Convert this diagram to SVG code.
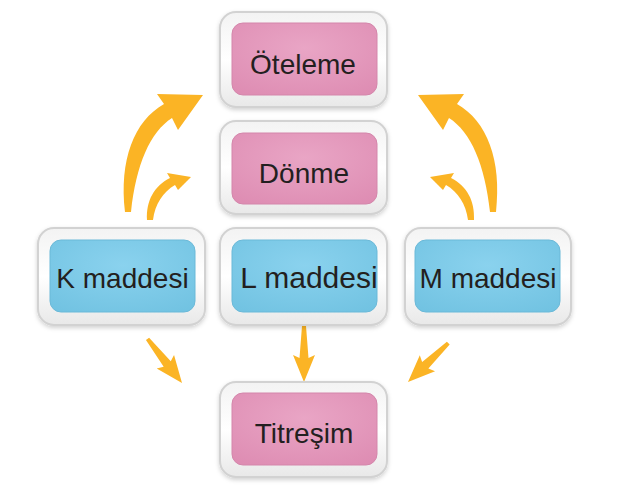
<svg xmlns="http://www.w3.org/2000/svg" width="642" height="491" viewBox="0 0 642 491">
  <defs>
    <linearGradient id="frameGrad" x1="0" y1="0" x2="0" y2="1">
      <stop offset="0" stop-color="#f3f3f3"/>
      <stop offset="0.5" stop-color="#ffffff"/>
      <stop offset="1" stop-color="#e8e8e8"/>
    </linearGradient>
    <radialGradient id="pinkGrad" cx="0.5" cy="0.35" r="0.75">
      <stop offset="0" stop-color="#e9a5c5"/>
      <stop offset="1" stop-color="#de8db3"/>
    </radialGradient>
    <radialGradient id="blueGrad" cx="0.5" cy="0.35" r="0.75">
      <stop offset="0" stop-color="#8ad2ee"/>
      <stop offset="1" stop-color="#72c3e2"/>
    </radialGradient>
    <filter id="shadow" x="-10%" y="-10%" width="120%" height="130%">
      <feDropShadow dx="0" dy="2" stdDeviation="2" flood-color="#000" flood-opacity="0.18"/>
    </filter>
    <path id="straightArrow" d="M-2,-56 L2,-56 L4.5,-24 L11,-27 L0,0 L-11,-27 L-4.5,-24 Z"/>
    <path id="bigCurve" d="M125,212 C119,160 134,121 164,104 L157,94 L203,95 L178,130 L172,118 C150,132 136,165 131,212 Z"/>
    <path id="smallCurve" d="M147,220 C146,201 154,186 170,178 L167,173 L191,177 L178,190 L175,185 C163,192 155,204 153,220 Z"/>
  </defs>
  <style>
    .frame { fill: url(#frameGrad); stroke: #d2d2d2; stroke-width: 2; filter: url(#shadow); }
    .pink { fill: url(#pinkGrad); stroke: #d486ab; stroke-width: 1; }
    .blue { fill: url(#blueGrad); stroke: #6bb9d8; stroke-width: 1; }
    .label { font-family: "Liberation Sans", Arial, sans-serif; font-size: 28px; fill: #231f20; text-anchor: middle; }
    .arrow { fill: #fbb425; }
  </style>
  <rect width="642" height="491" fill="#ffffff"/>

  <g id="connectors">
    <use href="#bigCurve" class="arrow"/>
    <use href="#smallCurve" class="arrow"/>
    <g transform="translate(621,0) scale(-1,1)">
      <use href="#bigCurve" class="arrow"/>
      <use href="#smallCurve" class="arrow"/>
    </g>
    <use href="#straightArrow" class="arrow" transform="translate(182,383) rotate(-38)"/>
    <use href="#straightArrow" class="arrow" transform="translate(304,382)"/>
    <use href="#straightArrow" class="arrow" transform="translate(408,382) rotate(46)"/>
  </g>

  <g id="oteleme">
    <rect class="frame" x="220" y="12" width="167" height="95" rx="16"/>
    <rect class="pink" x="232" y="23" width="145" height="72" rx="11"/>
    <text class="label" x="303" y="74">Öteleme</text>
  </g>
  <g id="donme">
    <rect class="frame" x="220" y="121" width="167" height="93" rx="16"/>
    <rect class="pink" x="232" y="133" width="145" height="71" rx="11"/>
    <text class="label" x="304" y="183">Dönme</text>
  </g>
  <g id="k-maddesi">
    <rect class="frame" x="38" y="228" width="167" height="97" rx="16"/>
    <rect class="blue" x="50" y="240" width="145" height="72" rx="11"/>
    <text class="label" x="122.5" y="288">K maddesi</text>
  </g>
  <g id="l-maddesi">
    <rect class="frame" x="220" y="228" width="167" height="97" rx="16"/>
    <rect class="blue" x="232" y="240" width="145" height="72" rx="11"/>
    <text class="label" x="309" y="288" style="font-size:30px">L maddesi</text>
  </g>
  <g id="m-maddesi">
    <rect class="frame" x="405" y="228" width="166" height="97" rx="16"/>
    <rect class="blue" x="415" y="240" width="145" height="72" rx="11"/>
    <text class="label" x="488" y="288">M maddesi</text>
  </g>
  <g id="titresim">
    <rect class="frame" x="220" y="382" width="167" height="95" rx="16"/>
    <rect class="pink" x="232" y="393" width="145" height="72" rx="11"/>
    <text class="label" x="304" y="443">Titreşim</text>
  </g>
</svg>
